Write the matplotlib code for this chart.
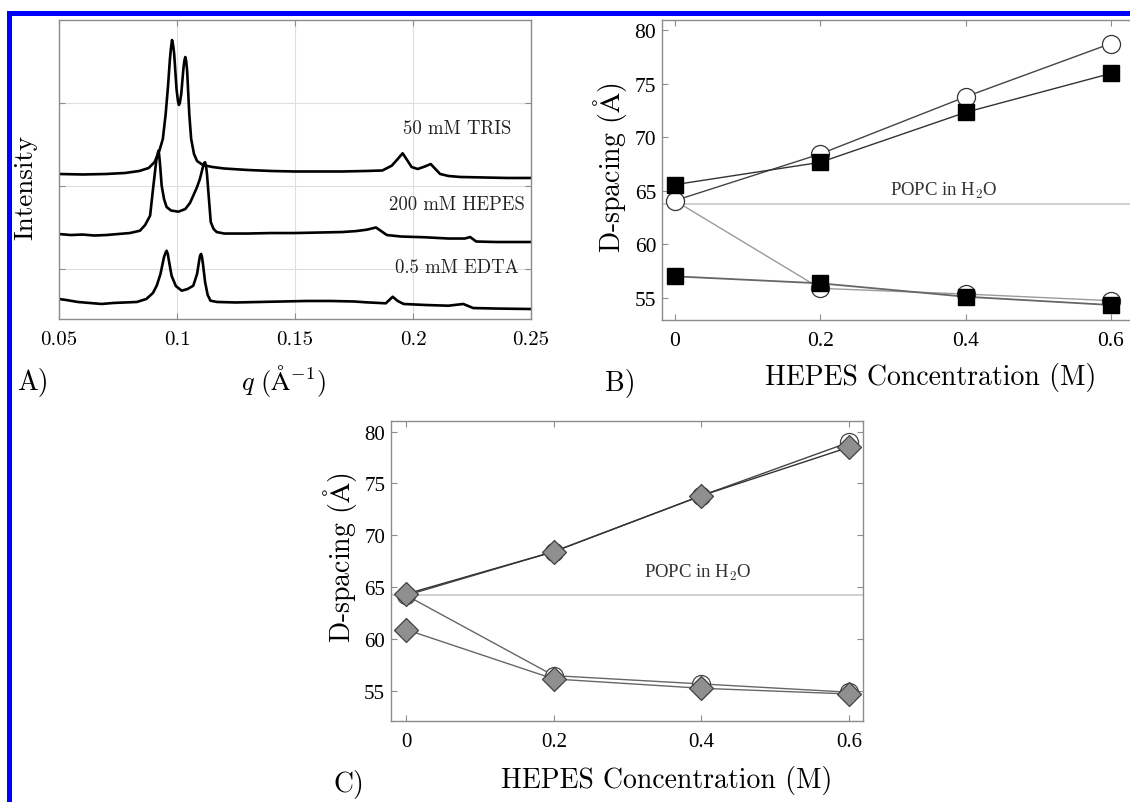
import matplotlib
matplotlib.use("Agg")
import matplotlib.pyplot as plt
from matplotlib.patches import Rectangle

plt.rcParams['mathtext.fontset'] = 'cm'
plt.rcParams['axes.unicode_minus'] = False

W, H = 1130, 803

# ---------------- Panel A data ----------------
tris_q = [0.050, 0.060, 0.070, 0.078, 0.084, 0.088, 0.0905, 0.0925, 0.094, 0.0952, 0.0962, 0.097,
          0.0974, 0.0979, 0.0984, 0.0988, 0.0998, 0.1004, 0.1008, 0.1012, 0.1018, 0.1027, 0.1031,
          0.1035, 0.1039, 0.1043, 0.1052, 0.1060, 0.1072,
          0.1085, 0.1110, 0.115, 0.120, 0.130, 0.140, 0.150, 0.160, 0.170, 0.180, 0.187, 0.191,
          0.1935, 0.1956, 0.1975, 0.1994, 0.202, 0.205, 0.2075, 0.2095, 0.2115, 0.215, 0.220,
          0.230, 0.240, 0.250]
tris_i = [1.746, 1.740, 1.746, 1.758, 1.782, 1.818, 1.890, 2.023, 2.167, 2.468, 2.805, 3.130,
          3.251, 3.359, 3.287, 3.191, 2.769, 2.625, 2.577, 2.601, 2.709, 3.010, 3.106,
          3.154, 3.106, 2.986, 2.468, 2.167, 1.987,
          1.902, 1.854, 1.830, 1.812, 1.794, 1.782, 1.776, 1.776, 1.776, 1.782, 1.788, 1.846,
          1.926, 1.995, 1.914, 1.830, 1.806, 1.836, 1.866, 1.806, 1.746, 1.722, 1.710,
          1.704, 1.698, 1.698]

hepes_q = [0.050, 0.055, 0.060, 0.065, 0.070, 0.075, 0.080, 0.0843, 0.0865, 0.0886, 0.0900, 0.0912,
           0.0918, 0.0921, 0.0924, 0.0928, 0.0935, 0.0945, 0.0956, 0.0975, 0.1006, 0.1035, 0.1055,
           0.1069, 0.1085, 0.1097, 0.1112, 0.1115, 0.1119, 0.1123, 0.1127, 0.1133, 0.1143, 0.1155,
           0.1168, 0.120, 0.130, 0.140,
           0.150, 0.160, 0.170, 0.176, 0.1804, 0.1843, 0.1865, 0.1889, 0.195, 0.205, 0.215, 0.222,
           0.2242, 0.2268, 0.235, 0.250]
hepes_i = [1.023, 1.011, 1.017, 1.005, 1.011, 1.023, 1.035, 1.063, 1.132, 1.244, 1.605, 1.902,
           1.987, 2.026, 1.987, 1.866, 1.605, 1.445, 1.348, 1.306, 1.292, 1.324, 1.397,
           1.485, 1.589, 1.686, 1.854, 1.878, 1.887, 1.842, 1.746, 1.529, 1.168, 1.084,
           1.047, 1.029, 1.029, 1.035,
           1.035, 1.041, 1.047, 1.059, 1.075, 1.102, 1.059, 1.011, 0.993, 0.984, 0.969, 0.969,
           0.987, 0.933, 0.927, 0.927]

edta_q = [0.050, 0.053, 0.058, 0.063, 0.068, 0.073, 0.078, 0.083, 0.087, 0.0898, 0.0914, 0.093,
          0.0945, 0.0951, 0.0956, 0.0961, 0.0966, 0.0977, 0.0995, 0.102, 0.1045, 0.1069, 0.1085,
          0.1095, 0.1098, 0.1102, 0.1106,
          0.111, 0.1119, 0.113, 0.1142, 0.117, 0.125, 0.135, 0.145, 0.155, 0.165, 0.175, 0.180,
          0.1885, 0.1914, 0.1935, 0.196, 0.205, 0.215, 0.2213, 0.2255, 0.235, 0.250]
edta_i = [0.241, 0.229, 0.205, 0.193, 0.181, 0.193, 0.199, 0.205, 0.241, 0.313, 0.401, 0.542,
          0.746, 0.795, 0.822, 0.783, 0.698, 0.521, 0.397, 0.341, 0.361, 0.401, 0.542,
          0.722, 0.765, 0.783, 0.746,
          0.662, 0.445, 0.289, 0.220, 0.205, 0.199, 0.205, 0.211, 0.217, 0.217, 0.211, 0.201,
          0.189, 0.268, 0.217, 0.181, 0.169, 0.160, 0.181, 0.132, 0.126, 0.120]

a_labels = ["50 mM TRIS", "200 mM HEPES", "0.5 mM EDTA"]
a_label_pos = [(0.2185, 2.30), (0.2185, 1.39), (0.2185, 0.62)]
a_xticks = [0.05, 0.1, 0.15, 0.2, 0.25]
a_xticklabels = ["0.05", "0.1", "0.15", "0.2", "0.25"]
a_yticks = [0.6, 1.6, 2.6]

# ---------------- Panel B data ----------------
conc = [0.0, 0.2, 0.4, 0.6]
b_circ_upper = [64.08, 68.43, 73.76, 78.73]
b_circ_lower = [64.08, 55.90, 55.37, 54.75]
b_sq_upper = [65.57, 67.65, 72.31, 75.94]
b_sq_lower = [57.02, 56.37, 55.12, 54.35]
b_popc = 63.77

# ---------------- Panel C data ----------------
c_circ_upper = [64.20, 68.42, 73.82, 78.97]
c_circ_lower = [64.20, 56.45, 55.65, 54.85]
c_dia_upper = [64.33, 68.42, 73.82, 78.50]
c_dia_lower = [60.89, 56.13, 55.23, 54.68]
c_popc = 64.20

d_ticks = [55, 60, 65, 70, 75, 80]
c_xticks = [0, 0.2, 0.4, 0.6]
c_xticklabels = ["0", "0.2", "0.4", "0.6"]

fig = plt.figure(figsize=(W / 100, H / 100), dpi=100)
fig.patch.set_facecolor('white')


def ax_at(x0, y0, x1, y1):
    return fig.add_axes([x0 / W, 1 - y1 / H, (x1 - x0) / W, (y1 - y0) / H])


def ftext(px, py, s, **kw):
    fig.text(px / W, 1 - py / H, s, ha='center', va='center', **kw)


spine_col = '#8c8c8c'
CM = 'cmr10'
TIMES = 'Liberation Serif'


def style(ax):
    for sp in ax.spines.values():
        sp.set_color(spine_col)
        sp.set_linewidth(1.0)
    ax.tick_params(direction='in', length=4, width=0.8, color=spine_col,
                   top=True, right=True, pad=8)


# ---------------- Panel A ----------------
axA = ax_at(59, 21, 531, 320)
style(axA)
for qv, iv in [(tris_q, tris_i), (hepes_q, hepes_i), (edta_q, edta_i)]:
    axA.plot(qv, iv, color='black', lw=1.9, solid_joinstyle='round')
axA.set_xlim(0.05, 0.25)
axA.set_ylim(0, 3.6)
axA.set_xticks(a_xticks)
axA.set_xticklabels(a_xticklabels, fontfamily=CM, fontsize=15)
axA.set_yticks(a_yticks)
axA.set_yticklabels([])
axA.grid(True, color='#dedede', lw=0.8)
axA.set_axisbelow(True)
for (x, y), s in zip(a_label_pos, a_labels):
    axA.text(x, y, s, ha='center', va='center', fontfamily=CM, fontsize=13.5, color='#222222')
ftext(25, 187, "Intensity", rotation=90, fontfamily=CM, fontsize=19.5)
ftext(283, 381, r'$q\ (\mathrm{\AA}^{-1})$', fontsize=19)
ftext(33, 383, "A)", fontfamily=CM, fontsize=20)

# ---------------- Panel B ----------------
axB = ax_at(661.8, 20.7, 1140, 321)
style(axB)
axB.axhline(b_popc, color='#c8c8c8', lw=1.2, zorder=1)
axB.plot(conc, b_circ_lower, color='#9a9a9a', lw=1.0, zorder=2)
axB.plot(conc, b_sq_lower, color='#666666', lw=1.3, zorder=2)
axB.plot(conc, b_circ_upper, color='#444444', lw=1.0, zorder=2)
axB.plot(conc, b_sq_upper, color='#333333', lw=1.0, zorder=2)
axB.plot(conc, b_circ_upper, 'o', ms=13, mfc='white', mec='#333333', mew=0.9, zorder=3)
axB.plot(conc[1:], b_circ_lower[1:], 'o', ms=13, mfc='white', mec='#333333', mew=0.9, zorder=3)
axB.plot(conc, b_sq_upper, 's', ms=11, mfc='black', mec='black', zorder=4)
axB.plot(conc, b_sq_lower, 's', ms=11, mfc='black', mec='black', zorder=4)
axB.set_xlim(-0.018, 0.64)
axB.set_ylim(52.95, 80.95)
axB.set_xticks(c_xticks)
axB.set_xticklabels(c_xticklabels, fontfamily=TIMES, fontsize=15.5)
axB.set_yticks(d_ticks)
axB.set_yticklabels([str(t) for t in d_ticks], fontfamily=TIMES, fontsize=15.5)
axB.tick_params(axis='y', pad=4)
axB.text(0.37, 65.1, 'POPC in H$_2$O', ha='center', va='center', fontfamily=TIMES,
         fontsize=13.5, color='#333333')
ftext(610, 168, r'D-spacing ($\mathrm{\AA}$)', rotation=90, fontfamily=CM, fontsize=20)
ftext(931, 378, "HEPES Concentration (M)", fontfamily=CM, fontsize=20)
ftext(620, 384, "B)", fontfamily=CM, fontsize=20)

# ---------------- Panel C ----------------
axC = ax_at(390.7, 421.7, 863, 721.7)
style(axC)
axC.axhline(c_popc, color='#c8c8c8', lw=1.2, zorder=1)
axC.plot(conc, c_circ_lower, color='#666666', lw=1.0, zorder=2)
axC.plot(conc, c_dia_lower, color='#666666', lw=1.0, zorder=2)
axC.plot(conc, c_circ_upper, color='#444444', lw=1.0, zorder=2)
axC.plot(conc, c_dia_upper, color='#333333', lw=1.0, zorder=2)
axC.plot(conc, c_circ_upper, 'o', ms=13, mfc='white', mec='#444444', mew=0.9, zorder=3)
axC.plot(conc[1:], c_circ_lower[1:], 'o', ms=13, mfc='white', mec='#444444', mew=0.9, zorder=3)
axC.plot(conc, c_dia_upper, 'D', ms=12.5, mfc='#8f8f8f', mec='#404040', mew=0.9, zorder=4)
axC.plot(conc, c_dia_lower, 'D', ms=12.5, mfc='#8f8f8f', mec='#404040', mew=0.9, zorder=4)
axC.set_xlim(-0.021, 0.619)
axC.set_ylim(52.1, 81.06)
axC.set_xticks(c_xticks)
axC.set_xticklabels(c_xticklabels, fontfamily=TIMES, fontsize=15)
axC.set_yticks(d_ticks)
axC.set_yticklabels([str(t) for t in d_ticks], fontfamily=TIMES, fontsize=15)
axC.tick_params(axis='y', pad=4)
axC.text(0.395, 66.43, 'POPC in H$_2$O', ha='center', va='center', fontfamily=TIMES,
         fontsize=13.5, color='#333333')
ftext(340, 558, r'D-spacing ($\mathrm{\AA}$)', rotation=90, fontfamily=CM, fontsize=20)
ftext(667, 781, "HEPES Concentration (M)", fontfamily=CM, fontsize=20)
ftext(349, 785, "C)", fontfamily=CM, fontsize=20)

# ---------------- Blue frame ----------------
fig.add_artist(Rectangle((7 / W, 1 - 17 / H), (W - 7) / W, 5 / H, transform=fig.transFigure,
                         color='#0000ff', lw=0, zorder=10))
fig.add_artist(Rectangle((7 / W, 0), 5 / W, 1 - 12 / H, transform=fig.transFigure,
                         color='#0000ff', lw=0, zorder=10))

fig.savefig("out.png", dpi=100)
